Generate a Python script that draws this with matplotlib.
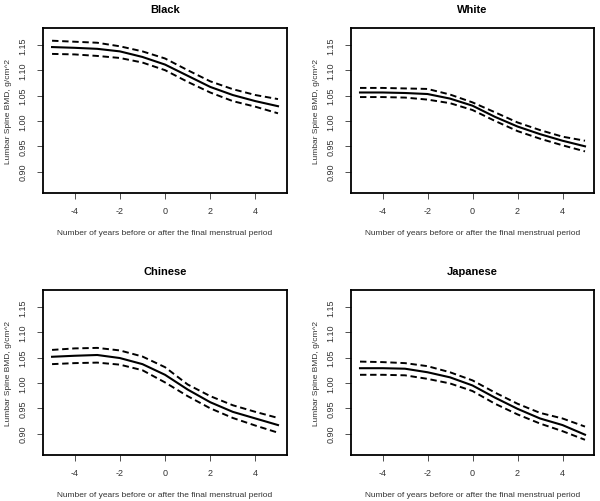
import matplotlib
matplotlib.use('Agg')
import matplotlib.pyplot as plt

plt.rcParams['font.family'] = ['Liberation Sans', 'DejaVu Sans']

years = [-5, -4, -3, -2, -1, 0, 1, 2, 3, 4, 5]

# BMD estimates (mean, upper CI, lower CI)
black_mean = [1.1455, 1.144, 1.142, 1.137, 1.126, 1.111, 1.089, 1.067, 1.051, 1.039, 1.029]
black_up = [1.158, 1.156, 1.154, 1.147, 1.137, 1.123, 1.100, 1.078, 1.0625, 1.051, 1.043]
black_lo = [1.132, 1.131, 1.128, 1.124, 1.115, 1.100, 1.077, 1.056, 1.039, 1.028, 1.015]

white_mean = [1.056, 1.056, 1.055, 1.053, 1.044, 1.030, 1.008, 0.989, 0.974, 0.961, 0.950]
white_up = [1.065, 1.065, 1.064, 1.063, 1.052, 1.0365, 1.017, 0.997, 0.982, 0.969, 0.961]
white_lo = [1.047, 1.047, 1.046, 1.042, 1.035, 1.0215, 1.000, 0.980, 0.965, 0.952, 0.940]

chinese_mean = [1.0515, 1.0535, 1.055, 1.049, 1.037, 1.016, 0.987, 0.962, 0.943, 0.930, 0.917]
chinese_up = [1.065, 1.068, 1.069, 1.064, 1.052, 1.031, 0.997, 0.974, 0.956, 0.943, 0.931]
chinese_lo = [1.037, 1.039, 1.040, 1.036, 1.025, 1.001, 0.974, 0.950, 0.931, 0.916, 0.902]

japanese_mean = [1.029, 1.029, 1.028, 1.021, 1.011, 0.995, 0.971, 0.949, 0.930, 0.917, 0.898]
japanese_up = [1.042, 1.041, 1.039, 1.033, 1.021, 1.005, 0.981, 0.959, 0.941, 0.930, 0.914]
japanese_lo = [1.016, 1.016, 1.015, 1.008, 0.999, 0.984, 0.959, 0.938, 0.920, 0.905, 0.888]

panels = [
    ("Black", black_mean, black_up, black_lo),
    ("White", white_mean, white_up, white_lo),
    ("Chinese", chinese_mean, chinese_up, chinese_lo),
    ("Japanese", japanese_mean, japanese_up, japanese_lo),
]

x_ticks = [-4, -2, 0, 2, 4]
y_ticks = [0.90, 0.95, 1.00, 1.05, 1.10, 1.15]

fig = plt.figure(figsize=(6.0, 5.02), dpi=100)
positions = [
    [0.0717, 0.6135, 0.4067, 0.3287],
    [0.585, 0.6135, 0.405, 0.3287],
    [0.0717, 0.0916, 0.4067, 0.3287],
    [0.585, 0.0916, 0.405, 0.3287],
]

for pos, (name, mean, up, lo) in zip(positions, panels):
    ax = fig.add_axes(pos)
    ax.plot(years, mean, color='black', lw=1.5, solid_joinstyle='round')
    ax.plot(years, up, color='black', lw=1.4, dashes=(3.3, 1.9))
    ax.plot(years, lo, color='black', lw=1.4, dashes=(3.3, 1.9))
    ax.set_xlim(-5.4, 5.4)
    ax.set_ylim(0.858, 1.183)
    ax.set_xticks(x_ticks)
    ax.set_xticklabels([str(t) for t in x_ticks])
    ax.set_yticks(y_ticks)
    ax.set_yticklabels(["%.2f" % t for t in y_ticks])
    ax.tick_params(labelsize=6.5, length=4, width=0.6, pad=5, colors='#333333')
    ax.tick_params(axis='y', labelrotation=90, pad=7)
    for lab in ax.get_yticklabels():
        lab.set_va('center')
    for s in ax.spines.values():
        s.set_linewidth(1.3)
    ax.set_title(name, fontsize=8, fontweight='bold', pad=11.5)
    ax.set_xlabel('Number of years before or after the final menstrual period',
                  fontsize=6.0, labelpad=10.5, color='#333333')
    ax.set_ylabel('Lumbar Spine BMD, g/cm^2', fontsize=6.0, labelpad=5,
                  color='#333333')

fig.savefig('out.png', dpi=100)
